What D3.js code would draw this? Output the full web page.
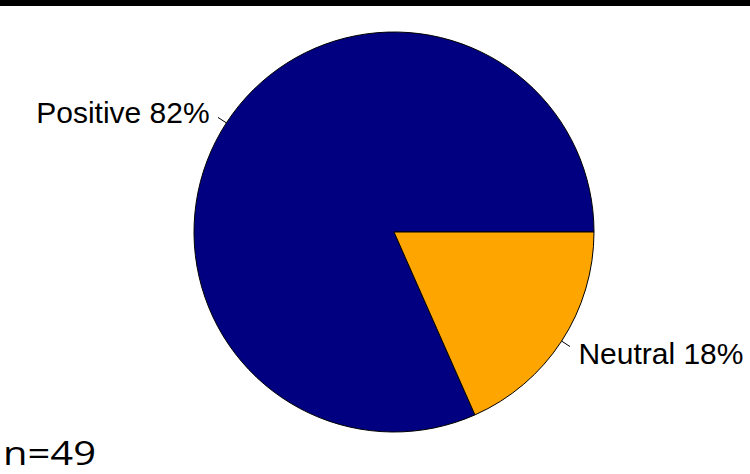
<!DOCTYPE html>
<html><head><meta charset="utf-8">
<script src="https://cdn.jsdelivr.net/npm/d3@7"></script>
<style>html,body{margin:0;padding:0;background:#fff;}svg{display:block;}</style>
</head><body>
<script>
const categories = ["Positive", "Neutral"];
const counts = [40, 9];
const colors = ["#000080", "#FFA500"];
const sampleLabel = "n=49";

const W = 750, H = 474;
const svg = d3.select("body").append("svg").attr("width", W).attr("height", H);
svg.append("rect").attr("x", 0).attr("y", 0).attr("width", W).attr("height", 6).attr("fill", "#000");

const cx = 394, cy = 232, r = 200;
const total = d3.sum(counts);
// R-style pie: start at 3 o'clock, counterclockwise
const pie = d3.pie().sort(null).value(d => d)
  .startAngle(Math.PI / 2).endAngle(Math.PI / 2 - 2 * Math.PI);
const arcs = pie(counts);
const arc = d3.arc().innerRadius(0).outerRadius(r);
const g = svg.append("g").attr("transform", `translate(${cx},${cy})`);
g.selectAll("path.slice").data(arcs).enter().append("path")
  .attr("d", arc).attr("fill", (d, i) => colors[i])
  .attr("stroke", "#000").attr("stroke-width", 1);

arcs.forEach((a, i) => {
  const mid = (a.startAngle + a.endAngle) / 2;
  const sx = Math.sin(mid), sy = -Math.cos(mid);
  g.append("line")
    .attr("x1", r * sx).attr("y1", r * sy)
    .attr("x2", 1.05 * r * sx).attr("y2", 1.05 * r * sy)
    .attr("stroke", "#000").attr("stroke-width", 1);
  const pct = Math.round(counts[i] / total * 100);
  g.append("text")
    .attr("x", 1.1 * r * sx).attr("y", 1.1 * r * sy + 1)
    .attr("text-anchor", sx < 0 ? "end" : "start")
    .attr("dominant-baseline", "central")
    .attr("font-family", "Liberation Sans, Arial, sans-serif")
    .attr("font-size", 30)
    .attr("fill", "#000")
    .text(`${categories[i]} ${pct}%`);
});

svg.append("text").attr("x", 3).attr("y", 465)
  .attr("font-family", "Open Sans, sans-serif").attr("font-size", 32)
  .attr("textLength", 93).attr("lengthAdjust", "spacingAndGlyphs")
  .attr("fill", "#000").text(sampleLabel);
</script>
</body></html>
